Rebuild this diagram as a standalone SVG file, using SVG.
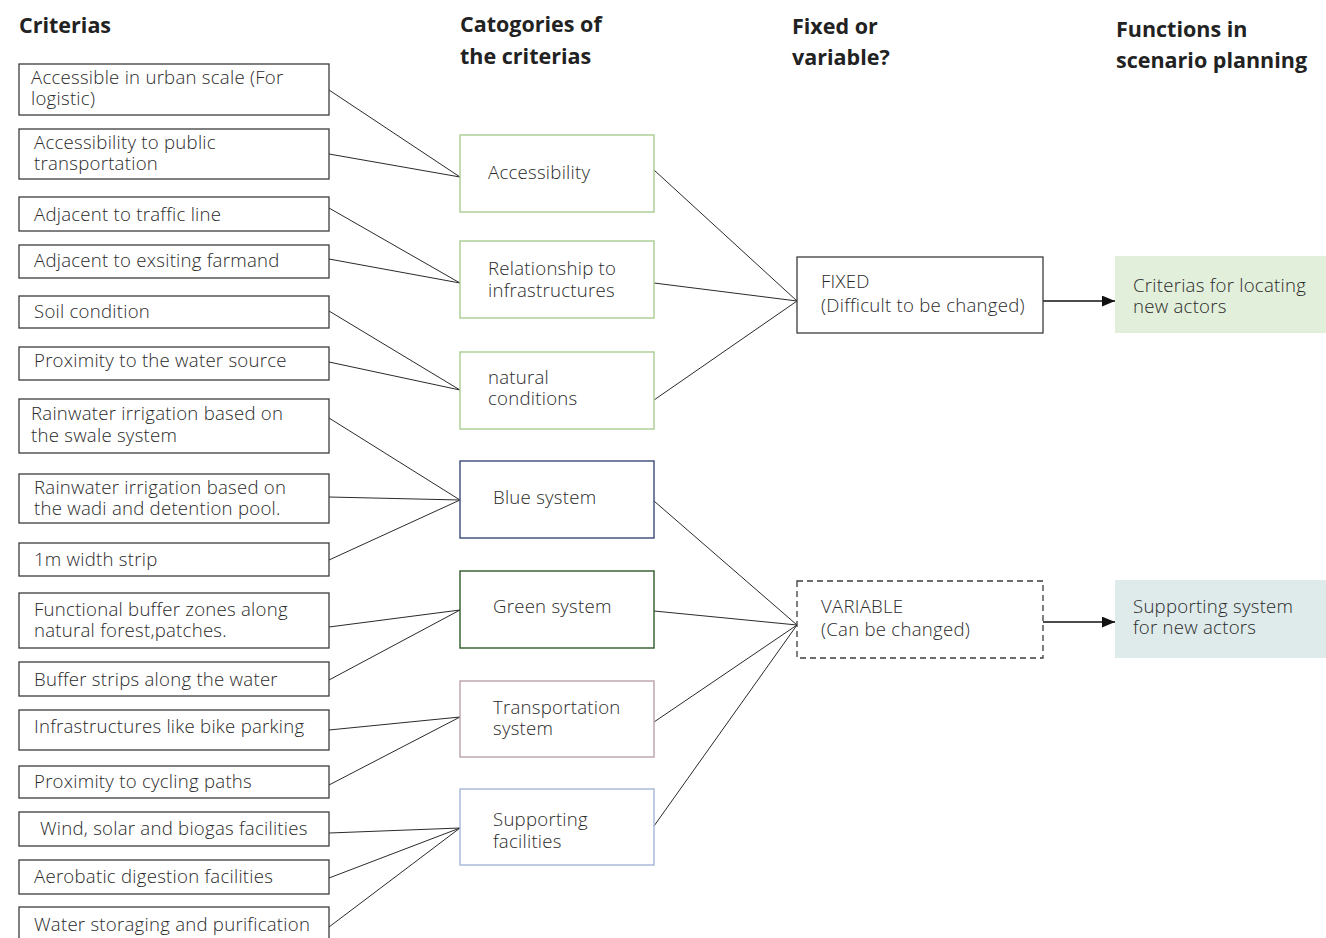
<svg xmlns="http://www.w3.org/2000/svg" width="1326" height="938" viewBox="0 0 1326 938">
  <style>
    .hd { font-family: "Open Sans", "Liberation Sans", sans-serif; font-weight: 700; font-size: 21.5px; fill: #222; }
    .tx { font-family: "Open Sans", "Liberation Sans", sans-serif; font-weight: 300; font-size: 18.6px; letter-spacing: 0.25px; fill: #2a2a2a; }
    .crit { fill: #fff; stroke: #3c3c3c; stroke-width: 1.3; }
    .cat { fill: #fff; stroke-width: 1.4; }
    .link { fill: none; stroke: #2a2a2a; stroke-width: 1; }
    .arrow { fill: none; stroke: #111; stroke-width: 1.5; marker-end: url(#head); }
  </style>
  <defs>
    <marker id="head" viewBox="0 0 12 10" refX="12" refY="5" markerWidth="13" markerHeight="11" markerUnits="userSpaceOnUse" orient="auto">
      <path d="M0,0 L12,5 L0,10 Z" fill="#111"/>
    </marker>
  </defs>
  <rect width="1326" height="938" fill="#fff"/>

  <!-- column headings -->
  <g id="headings">
    <text class="hd" x="19" y="33">Criterias</text>
    <text class="hd" x="460" y="32">Catogories of<tspan x="460" y="64">the criterias</tspan></text>
    <text class="hd" x="792" y="34">Fixed or<tspan x="792" y="65">variable?</tspan></text>
    <text class="hd" x="1116" y="37">Functions in<tspan x="1116" y="68">scenario planning</tspan></text>
  </g>

  <!-- connectors -->
  <g id="connectors">
    <path class="link" d="M329,90 L460,177 M329,154 L460,177"/>
    <path class="link" d="M329,208 L460,283 M329,259 L460,283"/>
    <path class="link" d="M329,311 L460,390 M329,362 L460,390"/>
    <path class="link" d="M329,418 L460,500 M329,497 L460,500 M329,560 L460,500"/>
    <path class="link" d="M329,627 L460,610 M329,680 L460,610"/>
    <path class="link" d="M329,730 L460,717 M329,785 L460,717"/>
    <path class="link" d="M329,833 L460,828 M329,878 L460,828 M329,927 L460,828"/>
    <path class="link" d="M654,170 L797,301 M654,283 L797,301 M654,400 L797,301"/>
    <path class="link" d="M654,501 L797,625 M654,611 L797,625 M654,722 L797,625 M654,826 L797,625"/>
    <path class="arrow" d="M1043,301 L1115,301"/>
    <path class="arrow" d="M1043,622 L1115,622"/>
  </g>

  <!-- criteria boxes -->
  <g id="c1"><rect class="crit" x="19" y="64" width="310" height="51"/>
    <text class="tx" x="31" y="84">Accessible in urban scale (For<tspan x="31" y="105">logistic)</tspan></text></g>
  <g id="c2"><rect class="crit" x="19" y="129" width="310" height="50"/>
    <text class="tx" x="34" y="149">Accessibility to public<tspan x="34" y="170">transportation</tspan></text></g>
  <g id="c3"><rect class="crit" x="19" y="197" width="310" height="34"/>
    <text class="tx" x="34" y="221">Adjacent to traffic line</text></g>
  <g id="c4"><rect class="crit" x="19" y="245" width="310" height="33"/>
    <text class="tx" x="34" y="267">Adjacent to exsiting farmand</text></g>
  <g id="c5"><rect class="crit" x="19" y="296" width="310" height="32"/>
    <text class="tx" x="34" y="318">Soil condition</text></g>
  <g id="c6"><rect class="crit" x="19" y="347" width="310" height="33"/>
    <text class="tx" x="34" y="367">Proximity to the water source</text></g>
  <g id="c7"><rect class="crit" x="19" y="399" width="310" height="54"/>
    <text class="tx" x="31" y="420">Rainwater irrigation based on<tspan x="31" y="442">the swale system</tspan></text></g>
  <g id="c8"><rect class="crit" x="19" y="474" width="310" height="49"/>
    <text class="tx" x="34" y="494">Rainwater irrigation based on<tspan x="34" y="515">the wadi and detention pool.</tspan></text></g>
  <g id="c9"><rect class="crit" x="19" y="543" width="310" height="33"/>
    <text class="tx" x="34" y="566">1m width strip</text></g>
  <g id="c10"><rect class="crit" x="19" y="593" width="310" height="55"/>
    <text class="tx" x="34" y="616">Functional buffer zones along<tspan x="34" y="637">natural forest,patches.</tspan></text></g>
  <g id="c11"><rect class="crit" x="19" y="662" width="310" height="34"/>
    <text class="tx" x="34" y="686">Buffer strips along the water</text></g>
  <g id="c12"><rect class="crit" x="19" y="710" width="310" height="40"/>
    <text class="tx" x="34" y="733">Infrastructures like bike parking</text></g>
  <g id="c13"><rect class="crit" x="19" y="766" width="310" height="32"/>
    <text class="tx" x="34" y="788">Proximity to cycling paths</text></g>
  <g id="c14"><rect class="crit" x="19" y="812" width="310" height="34"/>
    <text class="tx" x="40" y="835">Wind, solar and biogas facilities</text></g>
  <g id="c15"><rect class="crit" x="19" y="860" width="310" height="34"/>
    <text class="tx" x="34" y="883">Aerobatic digestion facilities</text></g>
  <g id="c16"><rect class="crit" x="19" y="907" width="310" height="40"/>
    <text class="tx" x="34" y="931">Water storaging and purification</text></g>

  <!-- category boxes -->
  <g id="cat-accessibility"><rect class="cat" x="460" y="135" width="194" height="77" stroke="#a9cc92"/>
    <text class="tx" x="488" y="179">Accessibility</text></g>
  <g id="cat-relationship"><rect class="cat" x="460" y="241" width="194" height="77" stroke="#a9cc92"/>
    <text class="tx" x="488" y="275">Relationship to<tspan x="488" y="297">infrastructures</tspan></text></g>
  <g id="cat-natural"><rect class="cat" x="460" y="352" width="194" height="77" stroke="#a9cc92"/>
    <text class="tx" x="488" y="384">natural<tspan x="488" y="405">conditions</tspan></text></g>
  <g id="cat-blue"><rect class="cat" x="460" y="461" width="194" height="77" stroke="#3b4a7a"/>
    <text class="tx" x="493" y="504">Blue system</text></g>
  <g id="cat-green"><rect class="cat" x="460" y="571" width="194" height="77" stroke="#2f5a2a"/>
    <text class="tx" x="493" y="613">Green system</text></g>
  <g id="cat-transport"><rect class="cat" x="460" y="681" width="194" height="76" stroke="#bba2ae"/>
    <text class="tx" x="493" y="714">Transportation<tspan x="493" y="735">system</tspan></text></g>
  <g id="cat-supporting"><rect class="cat" x="460" y="789" width="194" height="76" stroke="#a4b6d6"/>
    <text class="tx" x="493" y="826">Supporting<tspan x="493" y="848">facilities</tspan></text></g>

  <!-- fixed / variable -->
  <g id="fixed"><rect x="797" y="257" width="246" height="76" fill="#fff" stroke="#3c3c3c" stroke-width="1.3"/>
    <text class="tx" x="821" y="288">FIXED<tspan x="821" y="312">(Difficult to be changed)</tspan></text></g>
  <g id="variable"><rect x="797" y="581" width="246" height="77" fill="#fff" stroke="#3c3c3c" stroke-width="1.3" stroke-dasharray="6,4"/>
    <text class="tx" x="821" y="613">VARIABLE<tspan x="821" y="636">(Can be changed)</tspan></text></g>

  <!-- functions -->
  <g id="locating"><rect x="1115" y="256" width="211" height="77" fill="#e2efda"/>
    <text class="tx" x="1133" y="292">Criterias for locating<tspan x="1133" y="313">new actors</tspan></text></g>
  <g id="supporting-system"><rect x="1115" y="580" width="211" height="78" fill="#deebea"/>
    <text class="tx" x="1133" y="613">Supporting system<tspan x="1133" y="634">for new actors</tspan></text></g>
</svg>
